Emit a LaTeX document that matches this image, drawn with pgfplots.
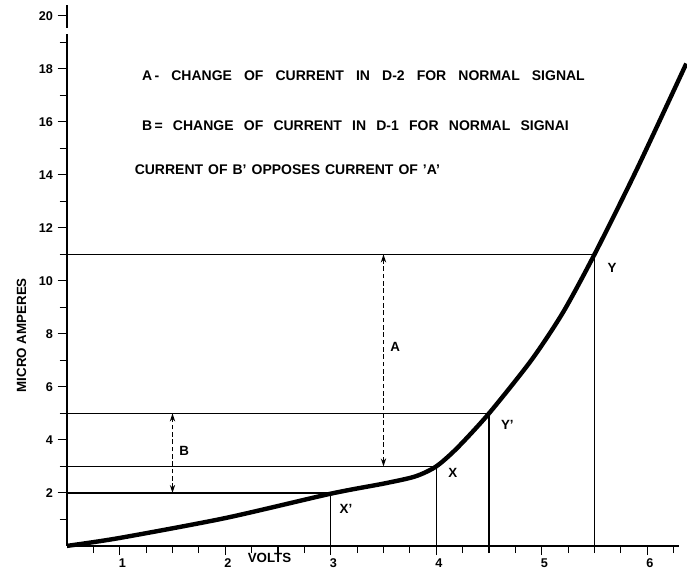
\documentclass[border=0pt]{standalone}
\usepackage{fontspec}
\setmainfont{Liberation Sans}
\usepackage{pgfplots}
\pgfplotsset{compat=1.18}
\usetikzlibrary{arrows.meta}
\begin{document}
\begin{tikzpicture}[lbl/.style={font=\bfseries\fontsize{10}{12}\selectfont},
  txt/.style={font=\bfseries\fontsize{10.5}{12}\selectfont, anchor=west, inner sep=0pt}]
\begin{axis}[
  x=79.125pt, y=19.875pt,
  xmin=0.5, xmax=6.3, ymin=0, ymax=20.4,
  axis lines=left,
  axis line style={-, line width=1.1pt},
  clip=false,
  xtick={1,2,3,4,5,6},
  minor xtick={0.75,1,...,6.25},
  ytick={2,4,...,20},
  minor ytick={1,3,...,19},
  tick align=outside,
  major tick length=7pt, minor tick length=5.5pt,
  every tick/.style={black, line width=0.9pt},
  tick label style={font=\bfseries\fontsize{9.5}{11}\selectfont},
  xticklabel style={xshift=2pt, yshift=1pt},
  /pgf/number format/assume math mode=true,
]
% characteristic curve
\addplot[line width=3.3pt, smooth, tension=0.45] coordinates {
  (0.5,0) (1,0.3) (2,1.05) (3,1.97) (3.5,2.35) (3.8,2.62) (4,3)
  (4.2,3.7) (4.5,5) (4.9,7.0) (5.2,8.8) (5.5,11) (5.9,14.2) (6.37,18.2)};
% horizontal construction lines
\addplot[line width=1.05pt] coordinates {(0.5,11) (5.5,11)};
\addplot[line width=1.05pt] coordinates {(0.5,5) (4.5,5)};
\addplot[line width=1.05pt] coordinates {(0.5,3) (4,3)};
\addplot[line width=1.05pt] coordinates {(0.5,2) (3,2)};
% vertical construction lines
\addplot[line width=1.05pt] coordinates {(3,0) (3,2)};
\addplot[line width=1.05pt] coordinates {(4,0) (4,3)};
\addplot[line width=1.05pt] coordinates {(4.5,0) (4.5,5)};
\addplot[line width=1.05pt] coordinates {(5.5,0) (5.5,11)};
% dashed double arrows
\addplot[line width=0.9pt, dash pattern=on 3.5pt off 2pt, {Stealth[length=6pt,width=4pt]}-{Stealth[length=6pt,width=4pt]}] coordinates {(3.5,3) (3.5,11)};
\addplot[line width=0.9pt, dash pattern=on 3.5pt off 2pt, {Stealth[length=6pt,width=4pt]}-{Stealth[length=6pt,width=4pt]}] coordinates {(1.5,2) (1.5,5)};
% small break in the y axis near the top
\draw[white, line width=3pt] (axis cs:0.5,19.3) -- (axis cs:0.5,19.55);
% labels
\node[lbl, anchor=west] at (axis cs:3.52,7.5) {A};
\node[lbl, anchor=west] at (axis cs:1.52,3.6) {B};
\node[lbl, anchor=west] at (axis cs:5.58,10.5) {Y};
\node[lbl, anchor=west] at (axis cs:4.57,4.55) {Y'};
\node[lbl, anchor=west] at (axis cs:4.07,2.75) {X};
\node[lbl, anchor=west] at (axis cs:3.04,1.4) {X'};
\node[lbl] at (axis cs:2.42,-0.45) {VOLTS};
\node[lbl, rotate=90] at (axis cs:0.07,7.95) {MICRO AMPERES};
\node[txt] at (axis cs:1.21,17.75) {\makebox[332pt][s]{A\,- CHANGE OF CURRENT IN D-2 FOR NORMAL SIGNAL}};
\node[txt] at (axis cs:1.21,15.85) {\makebox[320pt][s]{B\,= CHANGE OF CURRENT IN D-1 FOR NORMAL SIGNAI}};
\node[txt] at (axis cs:1.14,14.2) {\makebox[229pt][s]{CURRENT OF B' OPPOSES CURRENT OF 'A'}};
\coordinate (bl) at (axis cs:-0.135,-1.094);
\coordinate (tr) at (axis cs:6.377,20.6);
\end{axis}
\pgfresetboundingbox
\path[use as bounding box] (bl) rectangle (tr);
\end{tikzpicture}
\end{document}
